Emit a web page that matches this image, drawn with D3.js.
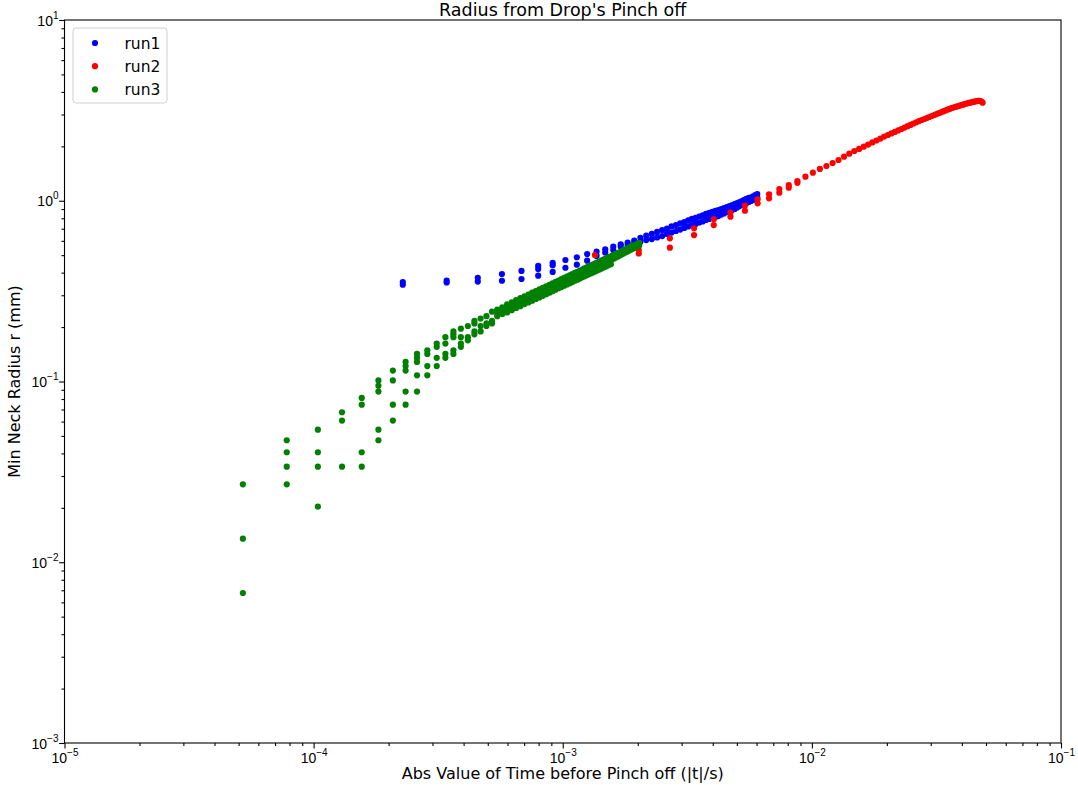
<!DOCTYPE html>
<html>
<head>
<meta charset="utf-8">
<script src="https://cdn.jsdelivr.net/npm/d3@7"></script>
<style>
  body { margin: 0; background: #fff; }
  svg { display: block; font-family: "DejaVu Sans", sans-serif; }
</style>
</head>
<body>
<svg id="chart" width="1078" height="785"></svg>
<script>
// times in ms (frame index * frame interval), radius in mm
const run1TimeMs = [0.228,0.342,0.456,0.570,0.683,0.797,0.911,1.025,1.139,1.253,1.367,1.481,1.595,1.709,1.822,1.936,2.050,2.164,2.278,2.392,2.506,2.620,2.734,2.848,2.961,3.075,3.189,3.303,3.417,3.531,3.645,3.759,3.873,3.987,4.100,4.214,4.328,4.442,4.556,4.670,4.784,4.898,5.012,5.126,5.239,5.353,5.467,5.581,5.695,5.809,5.923,6.037];
const run1Radius = [
  [0.355,0.343],[0.362,0.353],[0.375,0.357],[0.393,0.361],[0.409,0.369],[0.436,0.419,0.385],[0.454,0.440,0.404],
  [0.470,0.426],[0.487,0.443],[0.507,0.466],[0.523,0.495],[0.539,0.516],[0.557,0.534],[0.574,0.557],[0.586,0.569],
  [0.601,0.580],[0.624,0.594],[0.641,0.606],[0.655,0.614],[0.672,0.626],[0.689,0.638],[0.702,0.655],[0.721,0.667],
  [0.734,0.680],[0.749,0.693],[0.763,0.707],[0.778,0.721],[0.793,0.734],[0.803,0.744],[0.818,0.758],[0.829,0.768],
  [0.845,0.783],[0.856,0.793],[0.867,0.803],[0.878,0.813],[0.889,0.823],[0.900,0.839],[0.912,0.850],[0.923,0.867],
  [0.935,0.878],[0.947,0.889],[0.959,0.900],[0.972,0.918],[0.984,0.935],[0.997,0.947],[1.010,0.959],[1.023,0.972],
  [1.036,0.984],[1.042,0.997],[1.056,1.010],[1.076,1.029],[1.090,1.049]
];

const run2TimeMs = [1.346,2.019,2.692,3.365,4.038,4.711,5.384,6.057,6.730,7.403,8.076,8.749,9.422,10.095,10.768,11.441,12.114,12.787,13.460,14.133,14.806,15.479,16.152,16.825,17.498,18.171,18.844,19.517,20.190,20.863,21.536,22.209,22.882,23.555,24.228,24.901,25.574,26.247,26.920,27.593,28.266,28.939,29.612,30.285,30.958,31.631,32.304,32.977,33.650,34.323,34.996,35.669,36.342,37.015,37.688,38.361,39.034,39.707,40.380,41.053,41.726,42.399,43.072,43.745,44.418,45.091,45.764,46.437,47.110,47.783,48.456];
const run2Radius = [
  [0.501],[0.534,0.511],[0.620,0.550],[0.704,0.646],[0.790,0.734],[0.859,0.816],[0.939,0.881],[1.019,0.968],
  [1.086,1.032],[1.161,1.108],[1.222,1.181],[1.286,1.256],[1.359],[1.430],[1.499],[1.557],[1.618],[1.681],
  [1.753],[1.821],[1.885],[1.934],[1.991],[2.045],[2.101],[2.154],[2.207],[2.264],[2.311],[2.358],[2.404],
  [2.448],[2.495],[2.540],[2.585],[2.628],[2.676],[2.716],[2.759],[2.797],[2.834],[2.870],[2.907],[2.944],
  [2.982],[3.016],[3.051],[3.086],[3.122],[3.157],[3.190],[3.222],[3.255],[3.280],[3.305],[3.330],[3.352],
  [3.377],[3.399],[3.425],[3.447],[3.469],[3.487],[3.505],[3.523],[3.541],[3.555],[3.568],[3.573],[3.550],[3.487]
];

const run3TimeMs = [0.052,0.078,0.104,0.130,0.156,0.182,0.208,0.234,0.260,0.286,0.312,0.338,0.364,0.390,0.416,0.442,0.468,0.494,0.520,0.546,0.572,0.598,0.624,0.650,0.676,0.702,0.728,0.754,0.780,0.806,0.832,0.858,0.884,0.910,0.936,0.962,0.988,1.014,1.040,1.066,1.092,1.118,1.144,1.170,1.196,1.222,1.248,1.274,1.300,1.326,1.352,1.378,1.404,1.430,1.456,1.482,1.508,1.534,1.560,1.586,1.612,1.638,1.664,1.690,1.716,1.742,1.768,1.794,1.820,1.846,1.872,1.898,1.924,1.950,1.976,2.002,2.028];
const run3Radius = [
  [0.0270,0.0135,0.00676],[0.0473,0.0406,0.0338,0.0270],[0.0541,0.0406,0.0338,0.0203],[0.0676,0.0608,0.0338],
  [0.0811,0.0744,0.0406,0.0338],[0.1014,0.0946,0.0879,0.0541,0.0473],[0.1149,0.1014,0.0744,0.0608],
  [0.1284,0.1217,0.1149,0.0879,0.0744],[0.1420,0.1352,0.1284,0.1082,0.0879],[0.1487,0.1420,0.1217,0.1082],
  [0.1622,0.1555,0.1352,0.1217],[0.1758,0.1622,0.1420,0.1352],[0.1893,0.1825,0.1758,0.1487,0.1420],
  [0.1960,0.1758,0.1622,0.1555],[0.2028,0.1758,0.1690],[0.2163,0.2096,0.1893,0.1825],[0.2231,0.2028,0.1893],
  [0.2298,0.2096,0.2028],[0.2434,0.2163,0.2096],[0.2501,0.2366,0.2298],[0.2569,0.2434,0.2366],
  [0.267,0.253,0.241],[0.274,0.260,0.248],[0.282,0.267,0.255],[0.289,0.274,0.261],[0.296,0.281,0.268],
  [0.303,0.288,0.274],[0.310,0.294,0.280],[0.316,0.300,0.286],[0.323,0.307,0.292],[0.330,0.313,0.298],
  [0.336,0.319,0.304],[0.343,0.326,0.310],[0.349,0.332,0.316],[0.356,0.338,0.322],[0.362,0.344,0.328],
  [0.368,0.350,0.333],[0.374,0.356,0.339],[0.380,0.361,0.344],[0.387,0.367,0.350],[0.393,0.373,0.355],
  [0.399,0.379,0.361],[0.404,0.384,0.366],[0.410,0.390,0.371],[0.416,0.395,0.377],[0.422,0.401,0.382],
  [0.428,0.406,0.387],[0.433,0.412,0.392],[0.439,0.417,0.397],[0.445,0.422,0.402],[0.450,0.428,0.407],
  [0.456,0.433,0.412],[0.461,0.438,0.417],[0.467,0.443,0.422],[0.472,0.448,0.427],[0.477,0.454,0.432],
  [0.483,0.459,0.437],[0.488,0.464,0.442],[0.493,0.469,0.446],[0.499,0.476],[0.504,0.481],[0.509,0.487],
  [0.514,0.492],[0.519,0.498],[0.524,0.503],[0.530,0.509],[0.535,0.514],[0.540,0.519],[0.545,0.525],
  [0.550,0.530],[0.555,0.536],[0.559,0.541],[0.564,0.546],[0.569,0.551],[0.574,0.556],[0.579,0.561],[0.584,0.566]
];

const seriesNames = ["run1", "run2", "run3"];
const seriesColors = ["#0000ff", "#ff0000", "#008000"];
const xTickExps = [-5, -4, -3, -2, -1];
const yTickExps = [-3, -2, -1, 0, 1];

const titleText = "Radius from Drop's Pinch off";
const xLabel = "Abs Value of Time before Pinch off (|t|/s)";
const yLabel = "Min Neck Radius r (mm)";

function toPoints(times, radii) {
    let pts = [];
    times.forEach((t, i) => radii[i].forEach(r => pts.push({t: t / 1000, r: r})));
    return pts;
}

const runs = [
    toPoints(run1TimeMs, run1Radius),
    toPoints(run2TimeMs, run2Radius),
    toPoints(run3TimeMs, run3Radius)
];

let plotLeft = 64.5, plotRight = 1061, plotTop = 20, plotBottom = 743;

let x = d3.scaleLog().domain([1e-5, 1e-1]).range([plotLeft, plotRight]);
let y = d3.scaleLog().domain([1e-3, 1e1]).range([plotBottom, plotTop]);

let svg = d3.select('#chart');

// minor tick positions 2..9 inside each decade
function minors(lo, hi) {
    let v = [];
    for (let e = lo; e < hi; e++)
        for (let k = 2; k <= 9; k++) v.push(k * Math.pow(10, e));
    return v;
}

// points
runs.forEach((pts, i) => {
    svg.append('g')
        .selectAll('circle')
        .data(pts)
        .join('circle')
        .attr('cx', d => x(d.t))
        .attr('cy', d => y(d.r))
        .attr('r', 3.1)
        .attr('fill', seriesColors[i]);
});

// axes
let xMajor = svg.append('g')
    .attr('transform', `translate(0,${plotBottom})`)
    .call(d3.axisBottom(x).tickValues(xTickExps.map(e => Math.pow(10, e))).tickSize(5.4).tickFormat(''));
svg.append('g')
    .attr('transform', `translate(0,${plotBottom})`)
    .call(d3.axisBottom(x).tickValues(minors(-5, -1)).tickSize(3).tickFormat(''));
let yMajor = svg.append('g')
    .attr('transform', `translate(${plotLeft},0)`)
    .call(d3.axisLeft(y).tickValues(yTickExps.map(e => Math.pow(10, e))).tickSize(5.4).tickFormat(''));
svg.append('g')
    .attr('transform', `translate(${plotLeft},0)`)
    .call(d3.axisLeft(y).tickValues(minors(-3, 1)).tickSize(3).tickFormat(''));

svg.selectAll('.domain').remove();
svg.selectAll('.tick line').attr('stroke', '#000').attr('stroke-width', 1.1);
svg.selectAll('.tick text').remove();

function expLabel(sel, e) {
    sel.append('tspan').text('10');
    sel.append('tspan')
        .attr('font-size', '10px')
        .attr('dy', -7)
        .text(e < 0 ? '\u2212' + Math.abs(e) : String(e));
}

xMajor.selectAll('.tick').each(function(d, i) {
    d3.select(this).append('text')
        .attr('x', 0)
        .attr('y', 20)
        .attr('text-anchor', 'middle')
        .attr('fill', '#000')
        .attr('font-size', '14px')
        .call(expLabel, xTickExps[i]);
});
yMajor.selectAll('.tick').each(function(d, i) {
    d3.select(this).append('text')
        .attr('x', -6)
        .attr('y', 5)
        .attr('text-anchor', 'end')
        .attr('fill', '#000')
        .attr('font-size', '14px')
        .call(expLabel, yTickExps[i]);
});

// frame
svg.append('rect')
    .attr('x', plotLeft).attr('y', plotTop)
    .attr('width', plotRight - plotLeft).attr('height', plotBottom - plotTop)
    .attr('fill', 'none')
    .attr('stroke', '#000')
    .attr('stroke-width', 1.1);

// labels
svg.append('text')
    .attr('x', (plotLeft + plotRight) / 2).attr('y', 16)
    .attr('text-anchor', 'middle')
    .attr('font-size', '17.5px')
    .text(titleText);
svg.append('text')
    .attr('x', (plotLeft + plotRight) / 2).attr('y', 779)
    .attr('text-anchor', 'middle')
    .attr('font-size', '16px')
    .text(xLabel);
svg.append('text')
    .attr('transform', `translate(20,${(plotTop + plotBottom) / 2}) rotate(-90)`)
    .attr('text-anchor', 'middle')
    .attr('font-size', '16px')
    .text(yLabel);

// legend
let legend = svg.append('g');
legend.append('rect')
    .attr('x', 73).attr('y', 28)
    .attr('width', 94).attr('height', 75)
    .attr('rx', 3)
    .attr('fill', '#fff').attr('fill-opacity', 0.8)
    .attr('stroke', '#d0d0d0');
seriesNames.forEach((name, i) => {
    let yy = 43 + i * 23.2;
    legend.append('circle')
        .attr('cx', 95).attr('cy', yy).attr('r', 3.1)
        .attr('fill', seriesColors[i]);
    legend.append('text')
        .attr('x', 124.5).attr('y', yy + 5.5)
        .attr('font-size', '15.5px')
        .text(name);
});
</script>
</body>
</html>
